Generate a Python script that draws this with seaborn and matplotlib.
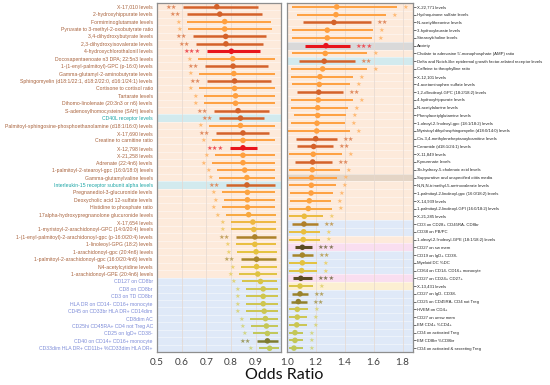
import numpy as np
import pandas as pd
import matplotlib
matplotlib.use("Agg")
import matplotlib.pyplot as plt
from matplotlib.colors import LinearSegmentedColormap, to_rgb
import seaborn as sns

# ---- data: left panel (OR < 1) ----
left_labels = [
    "X-17,010 levels", "2-hydroxyhippurate levels", "Formiminoglutamate levels",
    "Pyruvate to 3-methyl-2-oxobutyrate ratio", "3,4-dihydroxybutyrate levels",
    "2,3-dihydroxyisovalerate levels", "4-hydroxychlorothalonil levels",
    "Docosapentaenoate n3 DPA; 22:5n3 levels", "1-(1-enyl-palmitoyl)-GPC (p-16:0) levels",
    "Gamma-glutamyl-2-aminobutyrate levels",
    "Sphingomyelin (d18:1/22:1, d18:2/22:0, d16:1/24:1) levels",
    "Cortisone to cortisol ratio", "Tartarate levels",
    "Dihomo-linolenate (20:3n3 or n6) levels", "S-adenosylhomocysteine (SAH) levels",
    "CD40L receptor levels",
    "Palmitoyl-sphingosine-phosphoethanolamine (d18:1/16:0) levels",
    "X-17,690 levels", "Creatine to carnitine ratio", "X-12,798 levels", "X-21,258 levels",
    "Adrenate (22:4n6) levels", "1-palmitoyl-2-stearoyl-gpc (16:0/18:0) levels",
    "Gamma-glutamylvaline levels", "Interleukin-15 receptor subunit alpha levels",
    "Pregnanediol-3-glucuronide levels", "Deoxycholic acid 12-sulfate levels",
    "Histidine to phosphate ratio", "17alpha-hydroxypregnanolone glucuronide levels",
    "X-17,654 levels", "1-myristoyl-2-arachidonoyl-GPC (14:0/20:4) levels",
    "1-(1-enyl-palmitoyl)-2-arachidonoyl-gpc (p-16:0/20:4) levels",
    "1-linoleoyl-GPG (18:2) levels", "1-arachidonoyl-gpc (20:4n6) levels",
    "1-palmitoyl-2-arachidonoyl-gpc (16:0/20:4n6) levels", "N4-acetylcytidine levels",
    "1-arachidonoyl-GPE (20:4n6) levels",
    "CD127 on CD8br", "CD8 on CD8br", "CD3 on TD CD8br", "HLA DR on CD14- CD16+ monocyte",
    "CD45 on CD33br HLA DR+ CD14dim", "CD8dim AC", "CD25hi CD45RA+ CD4 not Treg AC",
    "CD25 on IgD+ CD38-", "CD40 on CD14+ CD16+ monocyte",
    "CD33dim HLA DR+ CD11b+ %CD33dim HLA DR+",
]
left_or = [0.742, 0.754, 0.774, 0.774, 0.778, 0.779, 0.801, 0.807, 0.808, 0.811,
           0.814, 0.814, 0.818, 0.818, 0.828, 0.838, 0.838, 0.848, 0.848, 0.848,
           0.848, 0.848, 0.855, 0.864, 0.864, 0.866, 0.866, 0.866, 0.871, 0.888,
           0.892, 0.896, 0.896, 0.901, 0.903, 0.903, 0.908, 0.919, 0.930, 0.930,
           0.930, 0.934, 0.939, 0.943, 0.947, 0.947, 0.956]
left_lo = [0.604, 0.620, 0.620, 0.624, 0.645, 0.657, 0.701, 0.665, 0.694, 0.669,
           0.701, 0.669, 0.689, 0.689, 0.730, 0.750, 0.710, 0.738, 0.722, 0.794,
           0.734, 0.722, 0.742, 0.750, 0.779, 0.762, 0.770, 0.762, 0.779, 0.799,
           0.799, 0.819, 0.819, 0.823, 0.839, 0.839, 0.831, 0.843, 0.859, 0.859,
           0.859, 0.859, 0.876, 0.880, 0.888, 0.904, 0.912]
left_hi = [0.908, 0.924, 0.960, 0.964, 0.940, 0.928, 0.916, 0.977, 0.948, 0.977,
           0.961, 0.977, 0.977, 0.977, 0.953, 0.932, 0.977, 0.953, 0.977, 0.904,
           0.977, 0.977, 0.977, 0.977, 0.977, 0.977, 0.977, 0.977, 0.981, 0.981,
           0.981, 0.981, 0.981, 0.985, 0.981, 0.985, 0.985, 0.985, 0.989, 0.989,
           0.989, 0.989, 0.989, 0.989, 0.989, 0.989, 0.993]
left_stars = [2, 2, 1, 1, 2, 2, 3, 1, 2, 1, 2, 1, 1, 1, 2, 2, 1, 2, 1, 3,
              1, 1, 1, 1, 2, 1, 1, 1, 1, 1, 1, 2, 1, 1, 2, 1, 1, 1, 1, 1,
              1, 1, 1, 1, 1, 2, 1]
left_kind = ["met"] * 15 + ["prot"] + ["met"] * 8 + ["prot"] + ["met"] * 12 + ["imm"] * 10

# ---- data: right panel (OR > 1) ----
right_labels = [
    "X-22,771 levels", "Hydroquinone sulfate levels", "N-acetylthreonine levels",
    "3-hydroxylaurate levels", "Stearoylcholine levels", "Anxiety",
    "Cholate to adenosine 5'-monophosphate (AMP) ratio",
    "Delta and Notch-like epidermal growth factor-related receptor levels",
    "Caffeine to theophylline ratio", "X-12,101 levels", "4-acetaminophen sulfate levels",
    "1,2-dilinoleoyl-GPC (18:2/18:2) levels", "4-hydroxyhippurate levels",
    "N-acetylalanine levels", "Phenylacetylglutamine levels",
    "1-oleoyl-2-linoleoyl-gpc (18:1/18:2) levels",
    "Myristoyl dihydrosphingomyelin (d18:0/14:0) levels",
    "Cis-3,4-methyleneheptanoylcarnitine levels", "Ceramide (d18:1/24:1) levels",
    "X-11,849 levels", "Kynurenate levels", "3b-hydroxy-5-cholenoic acid levels",
    "Suppurative and unspecified otitis media", "N,N,N-trimethyl-5-aminovalerate levels",
    "1-palmitoyl-2-linoleoyl-gpc (16:0/18:2) levels", "X-14,939 levels",
    "1-palmitoyl-2-linoleoyl-GPI (16:0/18:2) levels", "X-21,285 levels",
    "CD3 on CD28+ CD45RA- CD8br", "CD38 on PB/PC",
    "1-oleoyl-2-linoleoyl-GPE (18:1/18:2) levels", "CD27 on sw mem",
    "CD19 on IgD+ CD38-", "Myeloid DC %DC", "CD64 on CD14- CD16+ monocyte",
    "CD27 on CD24+ CD27+", "X-13,431 levels", "CD27 on IgD- CD38-",
    "CD25 on CD45RA- CD4 not Treg", "HVEM on CD4+", "CD27 on unsw mem",
    "EM CD4+ %CD4+", "CD4 on activated Treg", "EM CD8br %CD8br",
    "CD4 on activated & secreting Treg",
]
right_or = [1.345, 1.340, 1.326, 1.280, 1.280, 1.271, 1.266, 1.259, 1.248, 1.230,
            1.225, 1.221, 1.218, 1.214, 1.214, 1.209, 1.207, 1.200, 1.186, 1.183,
            1.179, 1.177, 1.172, 1.170, 1.168, 1.156, 1.149, 1.121, 1.119, 1.117,
            1.114, 1.108, 1.108, 1.108, 1.103, 1.097, 1.092, 1.092, 1.080, 1.073,
            1.073, 1.069, 1.057, 1.057, 1.050]
right_lo = [1.034, 1.069, 1.114, 1.034, 1.034, 1.126, 1.034, 1.087, 1.028, 1.028,
            1.034, 1.069, 1.028, 1.028, 1.050, 1.028, 1.011, 1.064, 1.069, 1.018,
            1.057, 1.018, 1.018, 1.018, 1.023, 1.023, 1.018, 1.018, 1.034, 1.018,
            1.018, 1.057, 1.034, 1.018, 1.018, 1.046, 1.018, 1.034, 1.030, 1.018,
            1.018, 1.018, 1.018, 1.018, 1.018]
right_hi = [1.759, 1.685, 1.581, 1.593, 1.586, 1.437, 1.552, 1.471, 1.552, 1.459,
            1.437, 1.390, 1.455, 1.425, 1.409, 1.402, 1.437, 1.345, 1.317, 1.379,
            1.310, 1.368, 1.349, 1.340, 1.317, 1.306, 1.310, 1.252, 1.214, 1.230,
            1.230, 1.172, 1.183, 1.207, 1.207, 1.172, 1.183, 1.149, 1.138, 1.149,
            1.142, 1.142, 1.114, 1.114, 1.114]
right_stars = [1, 1, 2, 1, 1, 3, 1, 2, 1, 1, 1, 2, 1, 1, 1, 1, 1, 2, 2, 1,
               2, 1, 1, 1, 1, 1, 1, 1, 2, 1, 1, 3, 2, 1, 1, 3, 1, 2, 2, 1,
               1, 1, 1, 1, 1]
right_kind = (["met"] * 5 + ["anx"] + ["met"] + ["prot"] + ["met"] * 14 + ["oti"]
              + ["met"] * 5 + ["imm", "imm", "met", "pink", "imm", "imm", "imm", "pink",
                               "met2"] + ["imm"] * 8)

# ---- styles ----
bg = {"met": "#fdeadb", "met2": "#fcefd2", "imm": "#dfe9f8", "prot": "#d2eaee",
      "anx": "#d9d9d9", "oti": "#e4d5c6", "pink": "#f9def0"}
txt = {"met": "#a8623c", "met2": "#a8623c", "imm": "#7c8bd8", "prot": "#1ba5a5",
       "anx": "#8d6a58", "oti": "#8d6a58", "pink": "#7c8bd8"}
cmaps = {
    1: LinearSegmentedColormap.from_list("s1", [(0, "#bfc85a"), (0.55, "#e6c23e"), (1, "#ffa040")]),
    2: LinearSegmentedColormap.from_list("s2", [(0, "#7b7b30"), (0.55, "#a8862a"), (1, "#d4622a")]),
    3: LinearSegmentedColormap.from_list("s3", [(0, "#5b4b22"), (0.6, "#5b4b22"), (1, "#e8141c")]),
}
lw_by_star = {1: 1.4, 2: 1.8, 3: 2.2}


def make_df(labels, ors, lo, hi, stars, kind):
    df = pd.DataFrame({"label": labels, "or": ors, "lo": lo, "hi": hi,
                       "stars": stars, "kind": kind})
    df["row"] = np.arange(len(df))
    t = np.clip((np.abs(np.log(df["or"])) - 0.05) / 0.10, 0, 1)
    df["color"] = [matplotlib.colors.to_hex(cmaps[s](v)) for s, v in zip(df["stars"], t)]
    return df


def lighten(c, f=0.25):
    r = np.array(to_rgb(c))
    return tuple(r + (1 - r) * f)


def draw_panel(ax, df, side):
    n = len(df)
    for _, r in df.iterrows():
        ax.axhspan(r["row"] - 0.5, r["row"] + 0.5, color=bg[r["kind"]], lw=0, zorder=0)
    for i in range(n + 1):
        ax.axhline(i - 0.5, color="white", lw=0.5, alpha=0.6, zorder=0.5)
    ax.hlines(df["row"], df["lo"], df["hi"], colors=df["color"],
              lw=[lw_by_star[s] for s in df["stars"]], zorder=2)
    sns.scatterplot(data=df, x="or", y="row", hue="label",
                    palette=dict(zip(df["label"], df["color"])),
                    s=16, linewidth=0, legend=False, ax=ax, zorder=3)
    for _, r in df.iterrows():
        st = "\u2605" * r["stars"]
        x = r["lo"] if side == "left" else r["hi"]
        dx = -4 if side == "left" else 4
        ax.annotate(st, xy=(x, r["row"]), xytext=(dx, -0.3),
                    textcoords="offset points", ha="right" if side == "left" else "left",
                    va="center", fontsize=4.6, color=lighten(r["color"]),
                    family="DejaVu Sans")
    ax.set_ylim(n - 0.5, -0.5)
    ax.set_yticks(df["row"])
    ax.set_yticklabels(df["label"])
    for lab, k in zip(ax.get_yticklabels(), df["kind"]):
        lab.set_color(txt[k])
    ax.set_xlabel("")
    ax.set_ylabel("")
    ax.grid(axis="x", color="#e6d8d0", lw=0.5)
    ax.grid(axis="y", visible=False)
    ax.set_axisbelow(True)
    for sp in ax.spines.values():
        sp.set_color("#8e8e8e")
        sp.set_linewidth(0.9)


sns.set_theme(style="white")
plt.rcParams["font.family"] = ["Liberation Sans", "DejaVu Sans"]

left = make_df(left_labels, left_or, left_lo, left_hi, left_stars, left_kind)
right = make_df(right_labels, right_or, right_lo, right_hi, right_stars, right_kind)

fig = plt.figure(figsize=(5.5, 3.85), dpi=100)
axl = fig.add_axes([0.2855, 0.0857, 0.2245, 0.9065])
axr = fig.add_axes([0.5213, 0.0857, 0.2291, 0.9065])

draw_panel(axl, left, "left")
draw_panel(axr, right, "right")

axl.set_xlim(0.5, 1.0)
axl.set_xticks([0.5, 0.6, 0.7, 0.8, 0.9])
axr.set_xlim(1.0, 1.87)
axr.set_xticks([1.0, 1.2, 1.4, 1.6, 1.8])
axr.yaxis.tick_right()

for ax in (axl, axr):
    ax.tick_params(axis="y", length=2, width=0.6, pad=1, color="#555555")
    ax.tick_params(axis="x", length=2, width=0.6, pad=2, labelsize=7.2, color="#555555",
                   labelcolor="#404040")
    for lab in ax.get_xticklabels():
        lab.set_family(["Lato", "DejaVu Sans"])
axl.tick_params(axis="y", labelsize=3.7)
axr.tick_params(axis="y", labelsize=3.02)

fig.text(0.517, 0.026, "Odds Ratio", ha="center", va="center", fontsize=11.5,
         family=["Lato", "DejaVu Sans"], color="#111111")

fig.savefig("out.png", dpi=100)
